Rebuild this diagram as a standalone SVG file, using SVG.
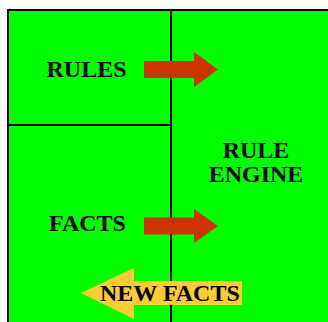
<svg xmlns="http://www.w3.org/2000/svg" width="328" height="322" viewBox="0 0 328 322">
<style>
.lbl{font-family:"Liberation Serif","Times New Roman",serif;font-weight:bold;font-size:24px;fill:#000}
.ln{stroke:#000;stroke-width:2;fill:none}
</style>
<rect x="0" y="0" width="328" height="322" fill="#fff"/>
<g id="engine">
<rect x="8" y="10" width="330" height="330" fill="#00ff00"/>
<path class="ln" d="M8,10 H328 M8,9 V322 M171,10 V322"/>
<text class="lbl" x="256" y="158" text-anchor="middle">RULE</text>
<text class="lbl" x="256" y="182" text-anchor="middle">ENGINE</text>
</g>
<g id="rules">
<path class="ln" d="M8,125 H171"/>
<text class="lbl" x="46.5" y="77">RULES</text>
</g>
<g id="facts">
<text class="lbl" x="49" y="231">FACTS</text>
</g>
<g id="connectors">
<polygon fill="#cc3300" points="144,61 194,61 194,52 218,69.5 194,87 194,78 144,78"/>
<polygon fill="#cc3300" points="144,217.5 194,217.5 194,209 218,226 194,243 194,234.5 144,234.5"/>
<g id="newfacts">
<polygon fill="#ffcc33" points="81,293 134,268 134,281 242,281 242,305 134,305 134,319"/>
<text class="lbl" x="100" y="301">NEW FACTS</text>
</g>
</g>
</svg>
